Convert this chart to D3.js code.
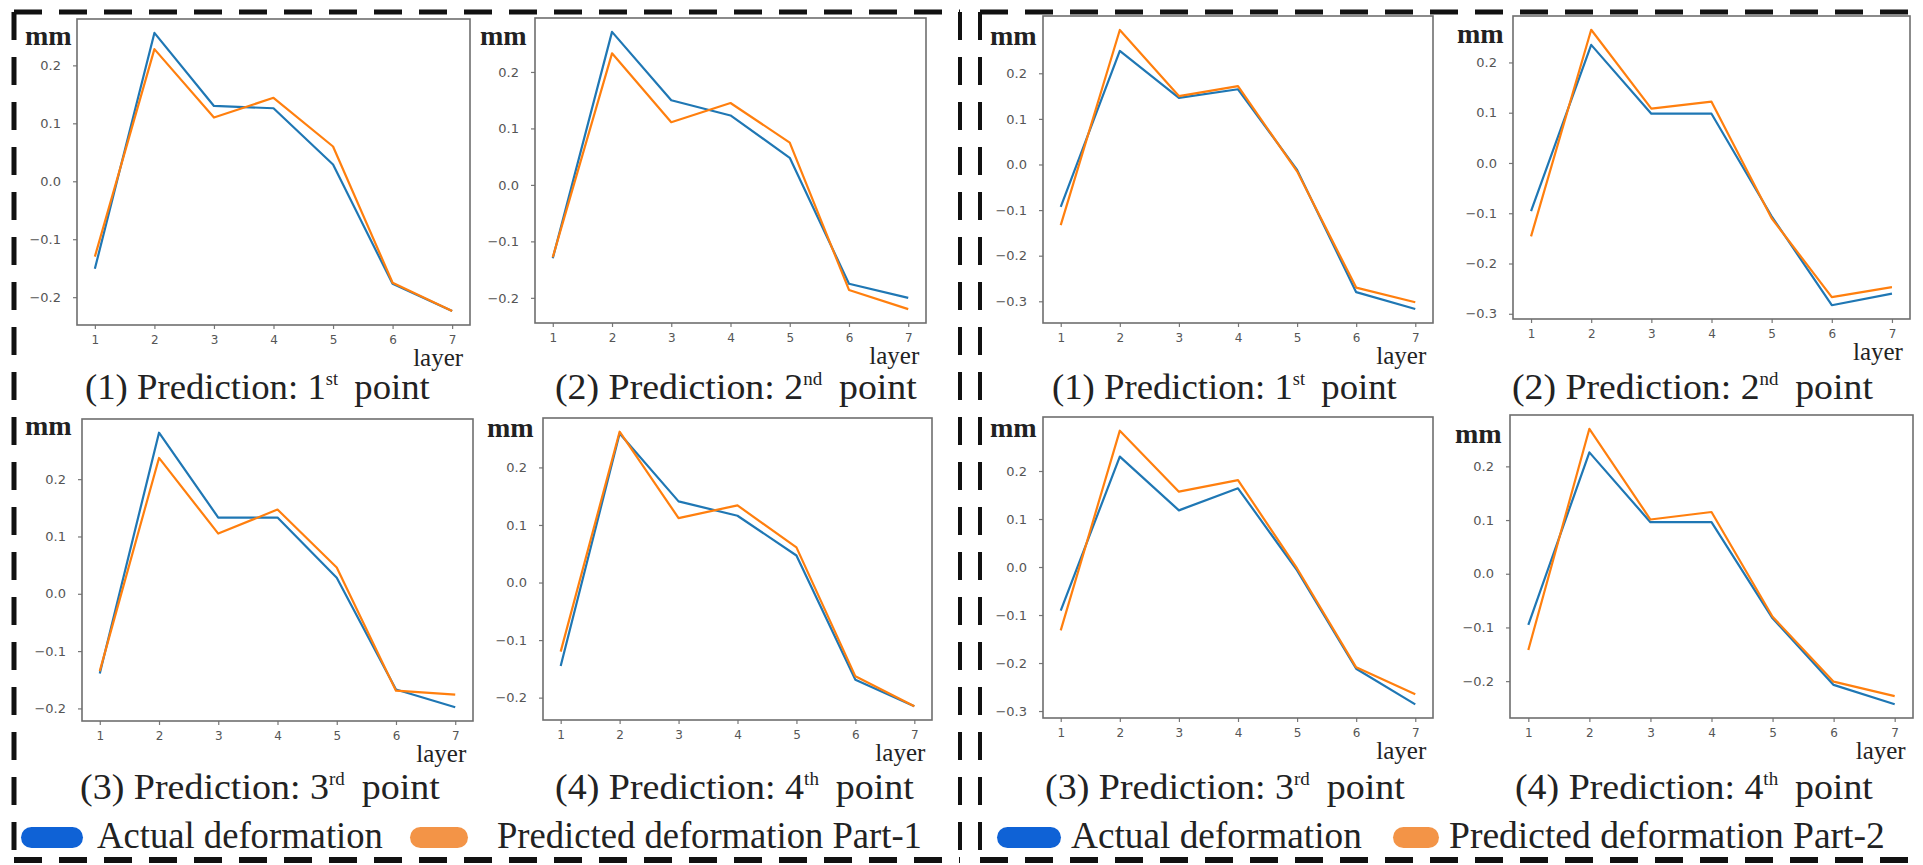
<!DOCTYPE html>
<html>
<head>
<meta charset="utf-8">
<script src="https://cdn.jsdelivr.net/npm/d3@7"></script>
<style>
  html, body { margin: 0; padding: 0; background: #fff; }
  svg { display: block; }
  .serif { font-family: "Liberation Serif", "Times New Roman", serif; }
</style>
</head>
<body>
<svg id="chart" width="1923" height="865"></svg>
<script>
// layers on the x axis
const layers = [1, 2, 3, 4, 5, 6, 7];
const yTickValues = [-0.3, -0.2, -0.1, 0.0, 0.1, 0.2];

// Part-1 (left block)
const part1Actual1 = [-0.151, 0.256, 0.130, 0.126, 0.029, -0.177, -0.224];
const part1Pred1   = [-0.130, 0.228, 0.110, 0.144, 0.060, -0.175, -0.224];
const part1Actual2 = [-0.130, 0.271, 0.150, 0.123, 0.048, -0.175, -0.200];
const part1Pred2   = [-0.128, 0.233, 0.111, 0.145, 0.075, -0.186, -0.220];
const part1Actual3 = [-0.139, 0.281, 0.133, 0.133, 0.028, -0.167, -0.198];
const part1Pred3   = [-0.135, 0.237, 0.105, 0.147, 0.046, -0.169, -0.176];
const part1Actual4 = [-0.145, 0.259, 0.141, 0.116, 0.047, -0.169, -0.215];
const part1Pred4   = [-0.120, 0.262, 0.112, 0.134, 0.061, -0.163, -0.215];

// Part-2 (right block)
const part2Actual1 = [-0.093, 0.249, 0.146, 0.165, -0.012, -0.280, -0.317];
const part2Pred1   = [-0.133, 0.295, 0.150, 0.172, -0.015, -0.270, -0.302];
const part2Actual2 = [-0.096, 0.235, 0.098, 0.098, -0.106, -0.283, -0.260];
const part2Pred2   = [-0.146, 0.265, 0.108, 0.122, -0.110, -0.267, -0.247];
const part2Actual3 = [-0.091, 0.230, 0.118, 0.164, -0.007, -0.212, -0.286];
const part2Pred3   = [-0.132, 0.284, 0.157, 0.181, -0.003, -0.209, -0.265];
const part2Actual4 = [-0.095, 0.226, 0.096, 0.096, -0.083, -0.207, -0.243];
const part2Pred4   = [-0.142, 0.270, 0.101, 0.115, -0.080, -0.201, -0.228];

const captionNums = ["(1)", "(2)", "(3)", "(4)"];
const captionSups = ["st", "nd", "rd", "th"];
const legendLabels = ["Actual deformation", "Predicted deformation Part-1", "Predicted deformation Part-2"];

const blue = "#1f77b4", orange = "#ff7f0e";

// panel layout: frame [left, top, right, bottom], caption [x0, x1, baseline], mm [x, baseline]
const panels = [
  { frame: [77, 19, 470, 325],   actual: part1Actual1, pred: part1Pred1, k: 0, cap: [85, 430, 399],    mm: [25, 45] },
  { frame: [535, 18, 926, 323],  actual: part1Actual2, pred: part1Pred2, k: 1, cap: [555, 917, 399],   mm: [480, 45] },
  { frame: [1043, 16, 1433, 323], actual: part2Actual1, pred: part2Pred1, k: 0, cap: [1052, 1397, 399], mm: [990, 45] },
  { frame: [1513, 16, 1910, 319], actual: part2Actual2, pred: part2Pred2, k: 1, cap: [1512, 1873, 399], mm: [1457, 43] },
  { frame: [82, 419, 473, 721],  actual: part1Actual3, pred: part1Pred3, k: 2, cap: [80, 440, 799],    mm: [25, 435] },
  { frame: [543, 418, 932, 720], actual: part1Actual4, pred: part1Pred4, k: 3, cap: [555, 914, 799],   mm: [487, 437] },
  { frame: [1043, 417, 1433, 718], actual: part2Actual3, pred: part2Pred3, k: 2, cap: [1045, 1405, 799], mm: [990, 437] },
  { frame: [1510, 415, 1913, 718], actual: part2Actual4, pred: part2Pred4, k: 3, cap: [1515, 1873, 799], mm: [1455, 443] }
];

const svg = d3.select("#chart");

// fit a text group horizontally into [x0, x1]
function fitText(g, x0, x1, y) {
  const w = g.node().getBBox().width;
  g.attr("transform", `translate(${x0},${y}) scale(${(x1 - x0) / w},1)`);
}

panels.forEach(p => {
  const [l, t, r, b] = p.frame;
  const all = p.actual.concat(p.pred);
  const lo = d3.min(all), hi = d3.max(all), pad = (hi - lo) * 0.05;

  const x = d3.scaleLinear().domain([0.7, 7.3]).range([l, r]);
  const y = d3.scaleLinear().domain([lo - pad, hi + pad]).range([b, t]);

  const g = svg.append("g");

  // y axis
  const yAxis = g.append("g")
    .attr("transform", `translate(${l},0)`)
    .call(d3.axisLeft(y)
      .tickValues(yTickValues.filter(v => v >= y.domain()[0] && v <= y.domain()[1]))
      .tickFormat(d3.format(".1f"))
      .tickSize(4).tickPadding(12));
  yAxis.select(".domain").remove();
  yAxis.selectAll("line").attr("stroke", "#777").attr("stroke-width", 1.2);
  yAxis.selectAll("text").attr("font-family", "DejaVu Sans, sans-serif")
    .attr("font-size", 13).attr("fill", "#555");

  // x axis
  const xAxis = g.append("g")
    .attr("transform", `translate(0,${b})`)
    .call(d3.axisBottom(x).tickValues(layers).tickFormat(d3.format("d"))
      .tickSize(4).tickPadding(6));
  xAxis.select(".domain").remove();
  xAxis.selectAll("line").attr("stroke", "#777").attr("stroke-width", 1.2);
  xAxis.selectAll("text").attr("font-family", "DejaVu Sans, sans-serif")
    .attr("font-size", 12).attr("fill", "#555");

  // lines
  const line = d3.line().x((d, i) => x(layers[i])).y(d => y(d));
  g.append("path").datum(p.actual).attr("d", line)
    .attr("fill", "none").attr("stroke", blue).attr("stroke-width", 2.2)
    .attr("stroke-linejoin", "round");
  g.append("path").datum(p.pred).attr("d", line)
    .attr("fill", "none").attr("stroke", orange).attr("stroke-width", 2.2)
    .attr("stroke-linejoin", "round");

  // frame
  g.append("rect").attr("x", l).attr("y", t).attr("width", r - l).attr("height", b - t)
    .attr("fill", "none").attr("stroke", "#6e6e6e").attr("stroke-width", 1.6);

  // unit label
  g.append("text").attr("class", "serif").attr("x", p.mm[0]).attr("y", p.mm[1])
    .attr("font-size", 28).attr("font-weight", "bold")
    .attr("fill", "#222").text("mm");

  // layer label
  g.append("text").attr("class", "serif").attr("x", x(7) + 11).attr("y", b + 41)
    .attr("text-anchor", "end").attr("font-size", 25)
    .attr("fill", "#222").text("layer");

  // caption
  const cap = g.append("g");
  const ct = cap.append("text").attr("class", "serif").attr("font-size", 36).attr("fill", "#222");
  ct.append("tspan").text(`${captionNums[p.k]} Prediction: ${p.k + 1}`);
  ct.append("tspan").attr("font-size", 18).attr("dy", -14).text(captionSups[p.k]);
  ct.append("tspan").attr("dy", 14).attr("dx", 16).text("point");
  fitText(cap, p.cap[0], p.cap[1], p.cap[2]);
});

// legends
const legends = [
  { blue: [21, 83], blueText: [97, 383], orange: [410, 468], orangeText: [497, 922], label: legendLabels[1] },
  { blue: [997, 1061], blueText: [1071, 1362], orange: [1393, 1439], orangeText: [1449, 1885], label: legendLabels[2] }
];
legends.forEach(L => {
  svg.append("rect").attr("x", L.blue[0]).attr("y", 827).attr("width", L.blue[1] - L.blue[0]).attr("height", 21)
    .attr("rx", 10.5).attr("fill", "#0f62d6");
  svg.append("rect").attr("x", L.orange[0]).attr("y", 827).attr("width", L.orange[1] - L.orange[0]).attr("height", 21)
    .attr("rx", 10.5).attr("fill", "#f39447");
  const a = svg.append("g");
  a.append("text").attr("class", "serif").attr("font-size", 37).attr("fill", "#222").text(legendLabels[0]);
  fitText(a, L.blueText[0], L.blueText[1], 848);
  const o = svg.append("g");
  o.append("text").attr("class", "serif").attr("font-size", 37).attr("fill", "#222").text(L.label);
  fitText(o, L.orangeText[0], L.orangeText[1], 848);
});

// dashed frames around the two blocks
const dash = "28,17";
const borders = [
  [14, 12, 960, 12, 5], [14, 860, 960, 860, 6], [14, 12, 14, 860, 5], [960, 12, 960, 860, 4],
  [980, 12, 1923, 12, 5], [980, 860, 1923, 860, 6], [980, 12, 980, 860, 4]
];
borders.forEach(([x1, y1, x2, y2, w]) => {
  svg.append("line").attr("x1", x1).attr("y1", y1).attr("x2", x2).attr("y2", y2)
    .attr("stroke", "#111").attr("stroke-width", w).attr("stroke-dasharray", dash);
});
</script>
</body>
</html>
